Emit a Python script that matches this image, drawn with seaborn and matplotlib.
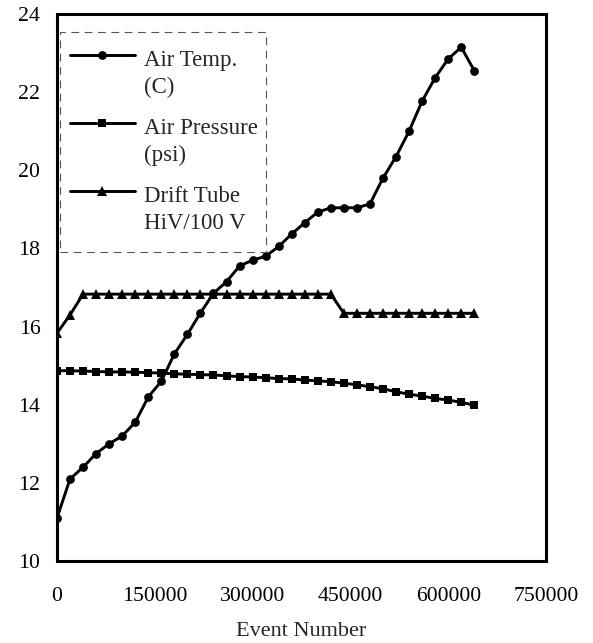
import numpy as np
import pandas as pd
import matplotlib
matplotlib.use("Agg")
import matplotlib.pyplot as plt
import seaborn as sns
from matplotlib.legend_handler import HandlerLine2D

# ---- data ----
event_number = [0, 20000, 40000, 60000, 80000, 100000, 120000, 140000, 160000,
                180000, 200000, 220000, 240000, 260000, 280000, 300000, 320000,
                340000, 360000, 380000, 400000, 420000, 440000, 460000, 480000,
                500000, 520000, 540000, 560000, 580000, 600000, 620000, 640000]

air_temp = [11.1, 12.1, 12.4, 12.75, 13.0, 13.2, 13.55, 14.2, 14.6,
            15.3, 15.8, 16.35, 16.85, 17.15, 17.55, 17.7, 17.8,
            18.05, 18.37, 18.66, 18.93, 19.04, 19.04, 19.04, 19.14,
            19.8, 20.35, 21.0, 21.77, 22.37, 22.85, 23.15, 22.55]

air_pressure = [14.87, 14.87, 14.86, 14.85, 14.84, 14.84, 14.83, 14.82, 14.81,
                14.79, 14.78, 14.77, 14.76, 14.74, 14.72, 14.71, 14.69,
                14.67, 14.66, 14.63, 14.61, 14.59, 14.55, 14.51, 14.46,
                14.41, 14.33, 14.27, 14.22, 14.16, 14.12, 14.06, 13.99]

drift_tube = [15.83, 16.3, 16.83, 16.83, 16.83, 16.83, 16.83, 16.83, 16.83,
              16.83, 16.83, 16.83, 16.83, 16.83, 16.83, 16.83, 16.83,
              16.83, 16.83, 16.83, 16.83, 16.83, 16.34, 16.34, 16.34,
              16.34, 16.34, 16.34, 16.34, 16.34, 16.34, 16.34, 16.34]

series_labels = ["Air Temp.\n(C)", "Air Pressure\n(psi)", "Drift Tube\nHiV/100 V"]
series_markers = ["o", "s", "^"]
x_ticks = [0, 150000, 300000, 450000, 600000, 750000]
y_ticks = [10, 12, 14, 16, 18, 20, 22, 24]
x_label = "Event Number"

# ---- styling ----
sns.set_style("white")
plt.rcParams["font.family"] = ["Liberation Serif", "DejaVu Serif"]

fig = plt.figure(figsize=(5.93, 6.43), dpi=100)
ax = fig.add_axes([57 / 593, 1 - 561 / 643, 489 / 593, 547 / 643])

series_values = [air_temp, air_pressure, drift_tube]
marker_sizes = [6.3, 6.3, 6.5]
for vals, lab, mk, ms in zip(series_values, series_labels, series_markers, marker_sizes):
    df = pd.DataFrame({"x": event_number, "y": vals})
    sns.lineplot(data=df, x="x", y="y", ax=ax, color="black", linewidth=2.1,
                 marker=mk, markersize=ms, markeredgewidth=0, label=lab)

ax.set_xlim(0, 750000)
ax.set_ylim(10, 24)
ax.set_xticks(x_ticks)
ax.set_xticklabels([str(t) for t in x_ticks])
ax.set_yticks(y_ticks)
ax.set_yticklabels([str(t) for t in y_ticks])
ax.set_xlabel(x_label, fontsize=16, labelpad=11)
ax.set_ylabel("")

for sp in ax.spines.values():
    sp.set_visible(True)
    sp.set_color("black")
    sp.set_linewidth(2.2)

ax.tick_params(axis="both", direction="inout", length=8, width=0.8,
               colors="black", labelsize=15.7)
ax.tick_params(axis="x", pad=15)
ax.tick_params(axis="y", pad=8)
ax.grid(False)

LEG_FS = 16.5


class UpHandler(HandlerLine2D):
    def create_artists(self, legend, orig_handle, xdescent, ydescent, width,
                       height, fontsize, trans):
        arts = super().create_artists(legend, orig_handle, xdescent, ydescent,
                                      width, height, fontsize, trans)
        for a in arts:
            x = np.asarray(a.get_xdata(), dtype=float)
            y = np.asarray(a.get_ydata(), dtype=float)
            x0, x1 = -xdescent, -xdescent + width
            a.set_xdata(x - 6.0 + 3.0 * (x - x0) / (x1 - x0))
            a.set_ydata(y + 0.85 * fontsize)
        return arts


handles, labels = ax.get_legend_handles_labels()
leg = ax.legend(handles, labels, loc="upper left",
                bbox_to_anchor=(0.006, 0.565, 0.421, 0.402), mode="expand",
                fontsize=LEG_FS, frameon=True, fancybox=False, borderpad=0.8,
                labelspacing=0.88, handlelength=2.66, handletextpad=0.2,
                borderaxespad=0,
                handler_map={h: UpHandler(numpoints=1) for h in handles})
for t in leg.get_texts():
    t.set_linespacing(1.35)
frame = leg.get_frame()
frame.set_edgecolor("#555555")
frame.set_linewidth(0.8)
frame.set_linestyle((0, (7, 5)))
frame.set_facecolor("white")
frame.set_alpha(1)

fig.savefig("out.png", dpi=100)
